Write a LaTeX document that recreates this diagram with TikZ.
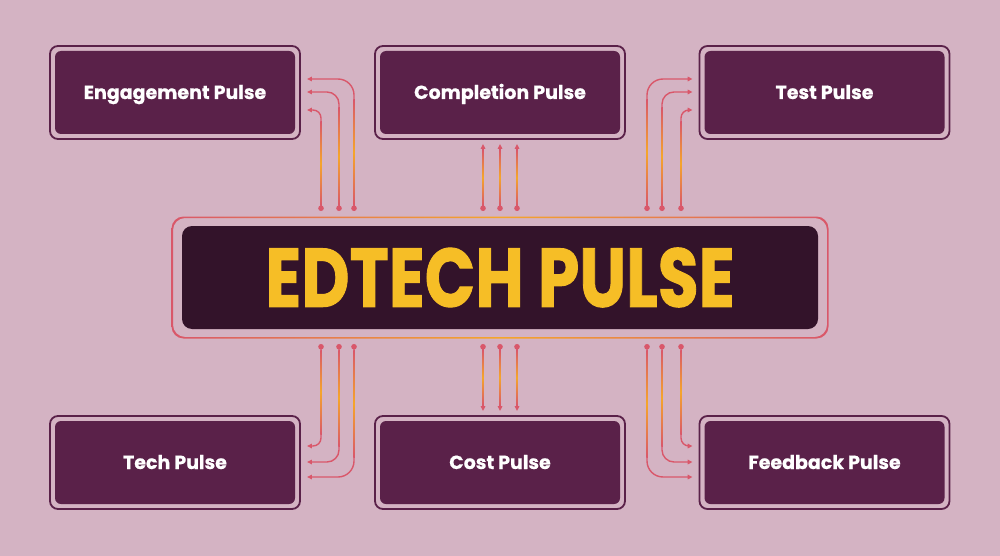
\documentclass[tikz,border=0pt]{standalone}
\usepackage{fontspec}
\newfontfamily\pop{Poppins}
\usetikzlibrary{arrows.meta}
\definecolor{bg}{HTML}{D4B3C3}
\definecolor{boxc}{HTML}{5A2149}
\definecolor{hubc}{HTML}{33132A}
\definecolor{ylw}{HTML}{F6BE26}
\definecolor{cr}{HTML}{D9576A}
\definecolor{orn}{HTML}{F5A62A}
\tikzset{
  box/.style={draw=boxc, line width=1.8pt, rounded corners=8pt,
    minimum width=250pt, minimum height=93pt, text=white,
    text height=13pt, text depth=0pt,
    font=\pop\bfseries\fontsize{19}{19}\selectfont\addfontfeatures{FakeBold=0.6},
    path picture={\fill[boxc, rounded corners=6pt]
      ([shift={(5pt,-5pt)}]path picture bounding box.north west) rectangle
      ([shift={(-5pt,5pt)}]path picture bounding box.south east);}},
  hub/.style={fill=hubc, rounded corners=10pt, minimum width=636pt,
    minimum height=103pt, inner sep=0pt, text=ylw},
  conn/.style={draw=cr, line width=1.4pt, {Circle[length=5.5pt]}-{Triangle[length=5pt,width=4.5pt]}},
}
\newcommand\glowline[3]{\shade[top color=cr, bottom color=cr, middle color=orn]
  (#1-0.75,#2) rectangle (#1+0.75,#3);}
\begin{document}
\begin{tikzpicture}[x=1pt,y=-1pt]
\useasboundingbox (0,0) rectangle (1000,556);
\fill[bg] (0,0) rectangle (1000,556);
% hub frame
\shade[even odd rule, left color=cr, right color=cr, middle color=orn]
  [rounded corners=12pt] (171.5,216.5) rectangle (828.5,338.5)
  (173,218) rectangle (827,337);
\node[hub] (hub) at (500,277.5) {\scalebox{0.8}[1]{\pop\bfseries\fontsize{83}{83}\selectfont\addfontfeatures{FakeBold=1.2}EDTECH PULSE}};
% boxes
\node[box] (eng)  at (175,92.5) {Engagement Pulse};
\node[box] (comp) at (500,92.5) {Completion Pulse};
\node[box] (test) at (824.5,92.5) {Test Pulse};
\node[box] (tech) at (175,462.5) {Tech Pulse};
\node[box] (cost) at (500,462.5) {Cost Pulse};
\node[box] (fb)   at (824.5,462.5) {Feedback Pulse};
% dot coordinates
\foreach \n/\x in {a/321,b/339,c/354,d/483,e/500,f/517,g/647,h/662,i/681}{
  \coordinate (t\n) at (\x,211);
  \coordinate (b\n) at (\x,344);
}
% top-left
\draw[conn, rounded corners=16pt] (tc) |- ([xshift=6pt]eng.east |- 0,79);
\draw[conn, rounded corners=12pt] (tb) |- ([xshift=6pt]eng.east |- 0,92);
\draw[conn, rounded corners=8pt] (ta) |- ([xshift=6pt]eng.east |- 0,110);
% top-middle
\draw[conn] (td) -- ([yshift=-4pt]td |- comp.south);
\draw[conn] (te) -- ([yshift=-4pt]te |- comp.south);
\draw[conn] (tf) -- ([yshift=-4pt]tf |- comp.south);
% top-right
\draw[conn, rounded corners=16pt] (tg) |- ([xshift=-6pt]test.west |- 0,79);
\draw[conn, rounded corners=12pt] (th) |- ([xshift=-6pt]test.west |- 0,92);
\draw[conn, rounded corners=8pt] (ti) |- ([xshift=-6pt]test.west |- 0,110);
% bottom-left
\draw[conn, rounded corners=8pt] (ba) |- ([xshift=6pt]tech.east |- 0,446);
\draw[conn, rounded corners=12pt] (bb) |- ([xshift=6pt]tech.east |- 0,462);
\draw[conn, rounded corners=16pt] (bc) |- ([xshift=6pt]tech.east |- 0,477);
% bottom-middle
\draw[conn] (bd) -- ([yshift=4pt]bd |- cost.north);
\draw[conn] (be) -- ([yshift=4pt]be |- cost.north);
\draw[conn] (bf) -- ([yshift=4pt]bf |- cost.north);
% bottom-right
\draw[conn, rounded corners=16pt] (bg) |- ([xshift=-6pt]fb.west |- 0,477);
\draw[conn, rounded corners=12pt] (bh) |- ([xshift=-6pt]fb.west |- 0,462);
\draw[conn, rounded corners=8pt] (bi) |- ([xshift=-6pt]fb.west |- 0,446);
% gradient glow on vertical runs
\glowline{354}{100}{205}\glowline{339}{108}{205}\glowline{321}{122}{205}
\glowline{483}{150}{205}\glowline{500}{150}{205}\glowline{517}{150}{205}
\glowline{647}{100}{205}\glowline{662}{108}{205}\glowline{681}{122}{205}
\glowline{321}{350}{434}\glowline{339}{350}{446}\glowline{354}{350}{457}
\glowline{483}{350}{405}\glowline{500}{350}{405}\glowline{517}{350}{405}
\glowline{647}{350}{457}\glowline{662}{350}{446}\glowline{681}{350}{434}
\end{tikzpicture}
\end{document}
